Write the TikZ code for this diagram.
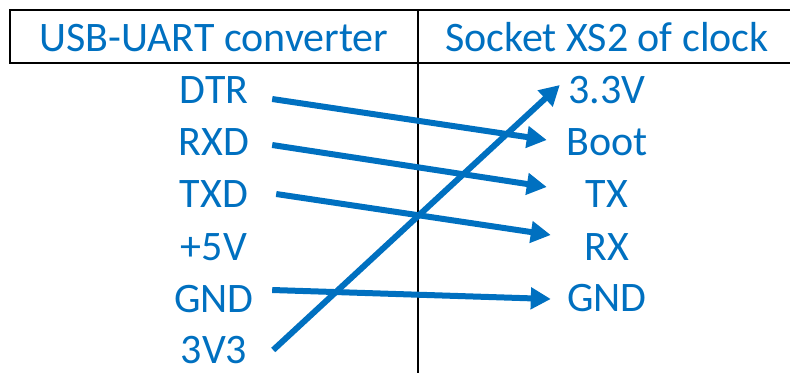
\documentclass[tikz,border=0pt]{standalone}
\usepackage{fontspec}
\setmainfont{Carlito}
\usetikzlibrary{arrows.meta}
\definecolor{usbblue}{HTML}{0070C0}
\tikzset{>={Triangle[length=20pt,width=21pt]}}
\tikzset{
  lbl/.style={text=usbblue, font=\fontsize{42}{48}\selectfont, inner sep=0pt, anchor=base},
  leftlbl/.style={lbl, minimum width=116pt},
  rightlbl/.style={lbl, minimum width=116pt},
  wire/.style={->, usbblue, line width=6pt},
  grid line/.style={black, line width=2.5pt}
}

\begin{document}
\begin{tikzpicture}[x=1pt, y=-1pt]
\useasboundingbox (0,0) rectangle (790,373);
% table frame
\draw[grid line, line join=miter] (790,10) -- (10,10) -- (10,63) -- (790,63);
\draw[grid line] (418,10) -- (418,373);
% headers
\node[lbl] (hdrL) at (214,51) {USB-UART converter};
\node[lbl] (hdrR) at (607,51) {Socket XS2 of clock};
% converter side
\node[leftlbl] (dtr) at (214,103) {DTR};
\node[leftlbl] (rxd) at (214,155) {RXD};
\node[leftlbl] (txd) at (214,207) {TXD};
\node[leftlbl] (p5v) at (214,260) {+5V};
\node[leftlbl] (gndL) at (214,312) {GND};
\node[leftlbl] (v3L) at (214,363) {3V3};
% clock socket side
\node[rightlbl] (v3R) at (607,103) {3.3V};
\node[rightlbl] (boot) at (607,155) {Boot};
\node[rightlbl] (tx) at (607,207) {TX};
\node[rightlbl] (rx) at (607,260) {RX};
\node[rightlbl] (gndR) at (607,311) {GND};
% wires
\draw[wire] ([yshift=4pt]dtr.base east) -- ([xshift=-2pt,yshift=15pt]boot.base west);
\draw[wire] ([yshift=10pt]rxd.base east) -- ([xshift=-2pt,yshift=20pt]tx.base west);
\draw[wire] ([xshift=4pt,yshift=13pt]txd.base east) -- ([xshift=2pt,yshift=25pt]rx.base west);
\draw[wire] ([yshift=22pt]gndL.base east) -- ([xshift=2pt,yshift=12pt]gndR.base west);
\draw[wire] ([xshift=1pt,yshift=13pt]v3L.base east) -- ([xshift=11pt,yshift=18pt]v3R.base west);
\end{tikzpicture}
\end{document}
